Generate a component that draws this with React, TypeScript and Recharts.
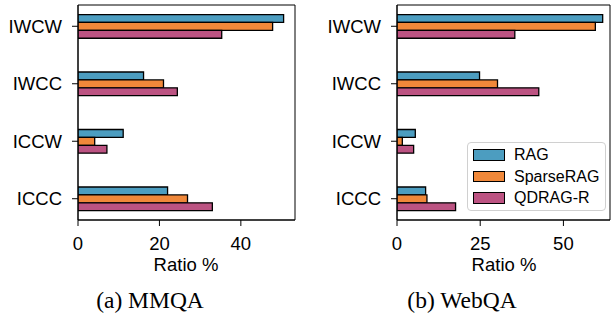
import React from 'react';
import { BarChart, Bar, XAxis, YAxis, ReferenceArea } from 'recharts';

// categories top to bottom
const categories = ['IWCW', 'IWCC', 'ICCW', 'ICCC'];
const seriesNames = ['RAG', 'SparseRAG', 'QDRAG-R'];
const colors = ['#4C9DC0', '#F0883A', '#BC5382'];

const mmqaRag = [50.5, 16.1, 11.1, 22.0];
const mmqaSparse = [47.8, 21.0, 4.1, 26.9];
const mmqaQdrag = [35.3, 24.4, 7.1, 33.0];

const webqaRag = [61.8, 24.8, 5.5, 8.6];
const webqaSparse = [59.6, 30.2, 1.6, 9.0];
const webqaQdrag = [35.4, 42.6, 5.0, 17.6];

const mmqaTicks = [0, 20, 40];
const webqaTicks = [0, 25, 50];

const buildRows = (a: number[], b: number[], c: number[]) =>
  categories.map((name, i) => ({ pos: i, name, s0: a[i], s1: b[i], s2: c[i] }));

const mmqaData = buildRows(mmqaRag, mmqaSparse, mmqaQdrag);
const webqaData = buildRows(webqaRag, webqaSparse, webqaQdrag);

const SANS = '"Liberation Sans", Arial, sans-serif';
const SERIF = '"Liberation Serif", "Times New Roman", serif';
const Y_DOMAIN: [number, number] = [-0.37, 3.37];

interface PanelProps {
  data: any[];
  xMax: number;
  ticks: number[];
  left: number;
  width: number;
  marginLeft: number;
  marginRight: number;
}

const Panel: React.FC<PanelProps> = ({ data, xMax, ticks, left, width, marginLeft, marginRight }) => {
  const tickStyle = { fill: '#000', fontSize: 18.5, fontFamily: SANS };
  return (
    <div style={{ position: 'absolute', left, top: 0 }}>
      <BarChart
        width={width}
        height={320}
        data={data}
        layout="vertical"
        barGap={0}
        margin={{ top: 5, right: marginRight, left: marginLeft, bottom: 70 }}
      >
        <XAxis
          type="number"
          dataKey=""
          domain={[0, xMax]}
          ticks={ticks}
          allowDataOverflow
          height={30}
          stroke="#000"
          tickSize={6}
          tickMargin={11}
          tick={tickStyle}
        />
        <YAxis
          type="number"
          dataKey="pos"
          domain={Y_DOMAIN}
          ticks={[0, 1, 2, 3]}
          allowDataOverflow
          width={70}
          stroke="#000"
          tickSize={6}
          tickMargin={10}
          tick={tickStyle}
          tickFormatter={(v: number) => categories[v] ?? ''}
        />
        <ReferenceArea
          x1={0}
          x2={xMax}
          y1={Y_DOMAIN[0]}
          y2={Y_DOMAIN[1]}
          fill="none"
          fillOpacity={0}
          stroke="#000"
          strokeWidth={1}
        />
        {seriesNames.map((s, i) => (
          <Bar
            key={s}
            dataKey={`s${i}`}
            name={s}
            fill={colors[i]}
            stroke="#000"
            strokeWidth={1.3}
            barSize={7.9}
            isAnimationActive={false}
          />
        ))}
      </BarChart>
    </div>
  );
};

const textAt = (text: string, cx: number, top: number, size: number, family: string) => (
  <div
    style={{
      position: 'absolute',
      left: cx - 100,
      width: 200,
      top,
      textAlign: 'center',
      fontSize: size,
      lineHeight: 1,
      fontFamily: family,
      color: '#000',
      whiteSpace: 'nowrap',
    }}
  >
    {text}
  </div>
);

const LegendBox = () => (
  <div
    style={{
      position: 'absolute',
      left: 467,
      top: 142,
      width: 139,
      height: 69,
      border: '1px solid #d0d0d0',
      borderRadius: 4,
      background: 'rgba(255,255,255,0.85)',
      boxSizing: 'border-box',
    }}
  >
    {seriesNames.map((s, i) => (
      <div
        key={s}
        style={{
          position: 'absolute',
          left: 5,
          top: 6 + i * 21.6 - 1,
          height: 14,
          display: 'flex',
          alignItems: 'center',
          fontFamily: SANS,
          fontSize: 16,
          color: '#000',
          whiteSpace: 'nowrap',
        }}
      >
        <span
          style={{
            display: 'inline-block',
            width: 32,
            height: 11.5,
            background: colors[i],
            border: '1.3px solid #000',
            boxSizing: 'border-box',
            marginRight: 9,
          }}
        />
        {s}
      </div>
    ))}
  </div>
);

export default function App() {
  return (
    <div style={{ position: 'absolute', left: 0, top: 0, width: 611, height: 320, background: '#fff', overflow: 'hidden' }}>
      <Panel data={mmqaData} xMax={53.3} ticks={mmqaTicks} left={0} width={300} marginLeft={8} marginRight={5} />
      <Panel data={webqaData} xMax={64} ticks={webqaTicks} left={300} width={311} marginLeft={27} marginRight={1} />
      {textAt('Ratio %', 186, 256, 18.5, SANS)}
      {textAt('Ratio %', 504, 256, 18.5, SANS)}
      {textAt('(a) MMQA', 150, 289, 23.5, SERIF)}
      {textAt('(b) WebQA', 462, 289, 23.5, SERIF)}
      <LegendBox />
    </div>
  );
}
